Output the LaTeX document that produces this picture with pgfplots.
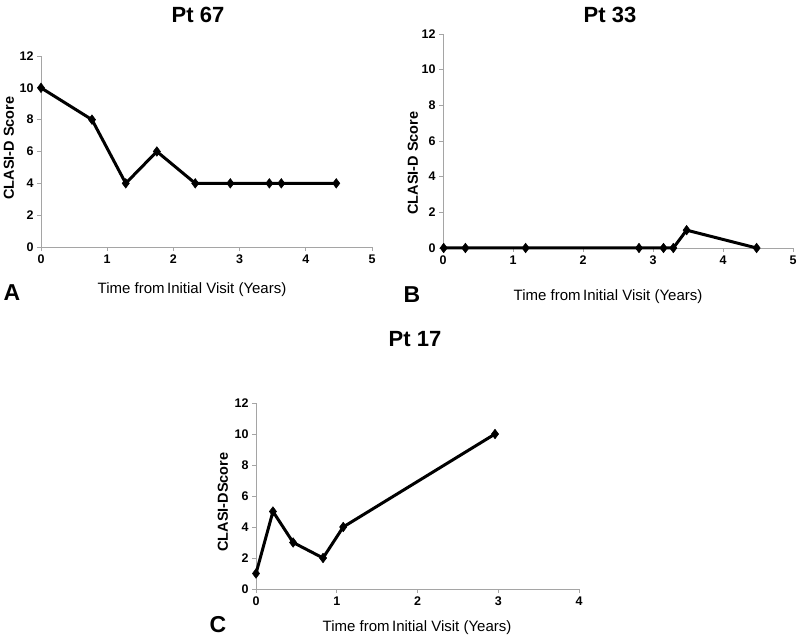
\documentclass[border=0pt]{standalone}
\usepackage{pgfplots}
\pgfplotsset{compat=1.18}
\usepackage{fontspec}
\setmainfont{Liberation Sans}
\definecolor{axisgray}{RGB}{165,165,165}
\pgfplotsset{
  panel/.style={
    scale only axis,
    axis x line=bottom, axis y line=left,
    axis line style={-, draw=axisgray, line width=0.9pt},
    tick style={draw=axisgray, line width=0.9pt},
    major tick length=4pt,
    tick align=outside,
    xmin=0, ymin=0, ymax=12,
    ytick={0,2,...,12},
    tick label style={font=\bfseries\fontsize{12.5}{14}\selectfont},
    /pgf/number format/assume math mode=true,
    clip=false,
  },
  series/.style={black, line width=3pt, mark=diamond*, mark size=4.8pt, mark options={solid, fill=black, line width=0.5pt}},
}
\begin{document}
\begin{tikzpicture}
\path (0pt,0pt) rectangle (800pt,640pt);
% Panel A
\begin{axis}[panel, at={(41pt,393pt)}, anchor=south west, width=331pt, height=191pt, xmax=5, xtick={0,...,5}]
\addplot[series] coordinates {(0,10) (0.77,8) (1.28,4) (1.75,6) (2.33,4) (2.86,4) (3.45,4) (3.63,4) (4.46,4)};
\end{axis}
% Panel B
\begin{axis}[panel, at={(443pt,392pt)}, anchor=south west, width=350pt, height=214pt, xmax=5, xtick={0,...,5}]
\addplot[series] coordinates {(0.01,0) (0.32,0) (1.18,0) (2.80,0) (3.15,0) (3.29,0) (3.48,1) (4.48,0)};
\end{axis}
% Panel C
\begin{axis}[panel, at={(256pt,51pt)}, anchor=south west, width=323pt, height=186pt, xmax=4, xtick={0,...,4}]
\addplot[series] coordinates {(0,1) (0.21,5) (0.46,3) (0.83,2) (1.08,4) (2.96,10)};
\end{axis}
% Titles
\node[font=\bfseries\fontsize{22}{25}\selectfont] at (198pt,625pt) {Pt 67};
\node[font=\bfseries\fontsize{22}{25}\selectfont] at (610pt,625pt) {Pt 33};
\node[font=\bfseries\fontsize{22}{25}\selectfont] at (415pt,301pt) {Pt 17};
% y labels
\node[rotate=90, font=\bfseries\fontsize{14.5}{16}\selectfont] at (9pt,492pt) {CLASI-D Score};
\node[rotate=90, font=\bfseries\fontsize{14.5}{16}\selectfont] at (413pt,477pt) {CLASI-D Score};
\node[rotate=90, font=\bfseries\fontsize{14.5}{16}\selectfont] at (223pt,138pt) {CLASI-DScore};
% x labels
\node[font=\fontsize{15}{17}\selectfont] at (192pt,350pt) {Time from\,Initial Visit (Years)};
\node[font=\fontsize{15}{17}\selectfont] at (608pt,343pt) {Time from\,Initial Visit (Years)};
\node[font=\fontsize{15}{17}\selectfont] at (417pt,12pt) {Time from\,Initial Visit (Years)};
% panel letters
\node[font=\bfseries\fontsize{23}{26}\selectfont] at (12pt,347pt) {A};
\node[font=\bfseries\fontsize{23}{26}\selectfont] at (412pt,345pt) {B};
\node[font=\bfseries\fontsize{23}{26}\selectfont] at (218pt,15pt) {C};
\end{tikzpicture}
\end{document}
